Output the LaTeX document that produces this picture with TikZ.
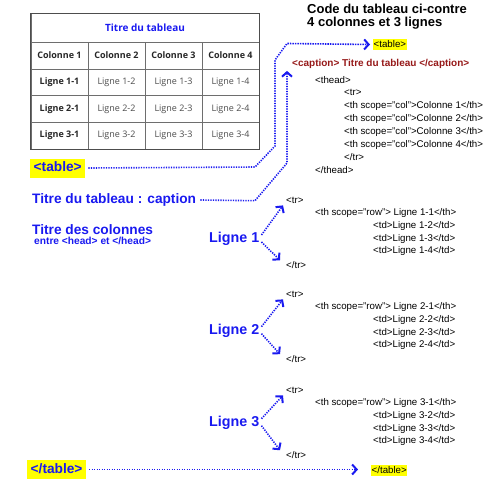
\documentclass[tikz,border=0pt]{standalone}
\usepackage{fontspec}
\setmainfont{Liberation Sans}
\newfontfamily\tabfont{Open Sans}
\usepackage{xcolor}
\usetikzlibrary{arrows.meta}

\definecolor{lblue}{RGB}{25,25,240}
\definecolor{capred}{RGB}{150,25,25}
\definecolor{hlyellow}{RGB}{255,255,0}
\definecolor{tgrid}{RGB}{110,110,110}
\definecolor{tgray}{RGB}{75,75,75}

\begin{document}
\begin{tikzpicture}[x=1pt, y=-1pt,
  code/.style={anchor=west, inner sep=0pt, font=\fontsize{9.7}{11}\selectfont},
  lbl/.style={anchor=west, inner sep=0pt, text=lblue,
              font=\fontsize{13.7}{16}\selectfont\bfseries},
  ligne/.style={anchor=west, inner sep=0pt, text=lblue,
                font=\fontsize{14.3}{16}\selectfont\bfseries},
  ltag/.style={lbl, fill=hlyellow, inner xsep=3.5pt, inner ysep=3pt,
               text height=10pt, text depth=3pt},
  rtag/.style={code, fill=hlyellow, inner xsep=0.5pt, inner ysep=1.5pt},
  cell/.style={draw=tgrid, minimum width=57pt, minimum height=26.75pt, inner sep=0pt,
               text=tgray, font=\tabfont\fontsize{9}{11}\selectfont},
  bcell/.style={cell, text=black!85, font=\tabfont\fontsize{9}{11}\selectfont\bfseries},
  arr/.style={draw=lblue, line width=1.6pt, dash pattern=on 1.3pt off 1.2pt,
              -{Straight Barb[length=4.5pt, width=10pt, line width=2pt]}}
]
\useasboundingbox (0,0) rectangle (500,485);
%% table
\node[cell, minimum width=228pt, minimum height=28.5pt, text=lblue,
      font=\tabfont\fontsize{10}{12}\selectfont\bfseries] (ttitle) at (145,27.6) {Titre du tableau};
\foreach \c in {1,...,4}
  \node[bcell] (h\c) at ({31+57*(\c-0.5)},55.4) {Colonne \c};
\foreach \r in {1,2,3} {
  \node[bcell] (c\r1) at (59.5,{42+26.75*(\r+0.5)}) {Ligne \r-1};
  \foreach \c in {2,3,4}
    \node[cell] (c\r\c) at ({31+57*(\c-0.5)},{42+26.75*(\r+0.5)}) {Ligne \r-\c};
}
\draw[tgrid!70!black, line width=1pt] (ttitle.north west) rectangle (c34.south east);
%% left labels
\node[ltag]  (ltab) at (30,168)   {<table>};
\node[lbl]   (lcap) at (32,200)   {Titre du tableau : caption};
\node[lbl]   (lcol) at (32,230)   {Titre des colonnes};
\node[anchor=west, inner sep=0pt, text=lblue, font=\fontsize{10.2}{12}\selectfont\bfseries]
             (lhead) at (34,241) {entre <head> et </head>};
\node[ltag]  (lend) at (27,469.5) {</table>};
%% code
\node[anchor=west, inner sep=0pt, font=\fontsize{13}{15}\selectfont\bfseries] (ttl1) at (307,8.5) {Code du tableau ci-contre};
\node[anchor=west, inner sep=0pt, font=\fontsize{13}{15}\selectfont\bfseries] (ttl2) at (307,23) {4 colonnes et 3 lignes};
\node[rtag]  (rtab) at (373,44.5) {<table>};
\node[code, text=capred, font=\fontsize{10}{12}\selectfont\bfseries] (cap) at (292,64) {<caption> Titre du tableau </caption>};
\node[code]  (thead) at (315,80) {<thead>};
\node[code]  (htr)   at (344,92.7) {<tr>};
\foreach \c in {1,...,4}
  \node[code] (th\c) at (344,{93+13*\c}) {<th scope="col">Colonne \c</th>};
\node[code]  (ehtr)   at (344,157) {</tr>};
\node[code]  (ethead) at (315,170) {</thead>};
\foreach \r/\y in {1/200, 2/294, 3/390} {
  \node[code] (tr\r) at (286,\y) {<tr>};
  \node[code] (rth\r) at (315,\y+13) {<th scope="row"> Ligne \r-1</th>};
  \foreach \c [count=\k] in {2,3,4}
    \node[code] (td\r\c) at (373,{\y+13+12.8*\k}) {<td>Ligne \r-\c</td>};
  \node[code] (etr\r) at (286,\y+65) {</tr>};
}
\node[rtag]  (rend) at (371,470.5) {</table>};
%% ligne labels
\node[ligne] (lig1) at (209,239)   {Ligne 1};
\node[ligne] (lig2) at (209,330.7) {Ligne 2};
\node[ligne] (lig3) at (209,422.7) {Ligne 3};
%% arrows
\draw[arr] ([xshift=3pt]ltab.east) -- (255,167) -- (275,146) -- (275,60) -- (287,43.5)
           -- ([xshift=-3pt]rtab.west);
\draw[arr] ([xshift=4pt]lcap.east) -- (255,200.7) -- (287,163)
           -- ([xshift=-5pt,yshift=-2pt]cap.south west);
\foreach \r in {1,2,3} {
  \draw[arr] ([xshift=2pt,yshift=4pt]lig\r.east) -- ([xshift=-3pt,yshift=-2pt]tr\r.south west);
  \draw[arr] ([xshift=2pt,yshift=-3pt]lig\r.east) -- ([xshift=-6pt,yshift=1pt]etr\r.north west);
}
\draw[arr] ([xshift=3pt]lend.east) -- ([xshift=-13pt]lend.east -| rend.west);
\end{tikzpicture}
\end{document}
